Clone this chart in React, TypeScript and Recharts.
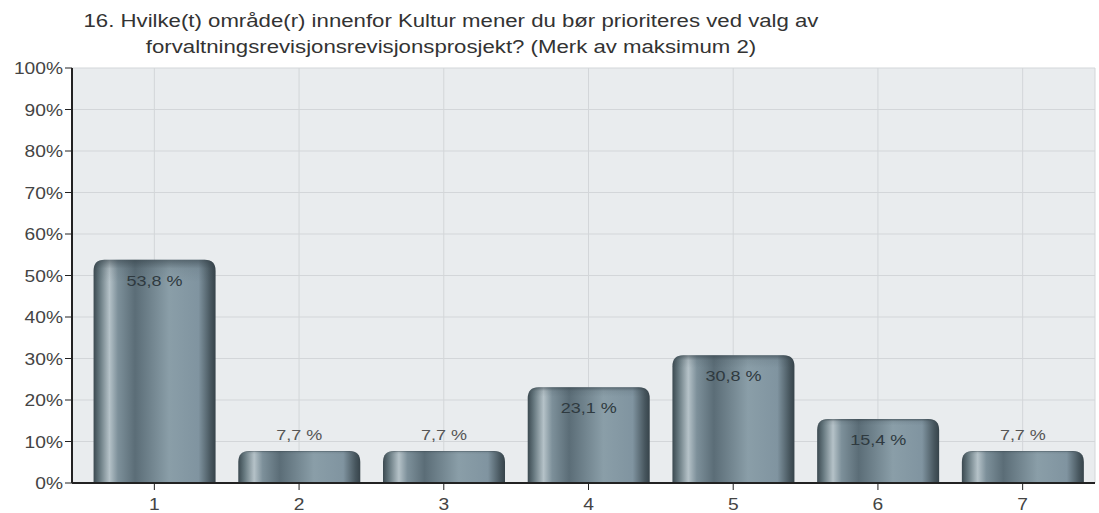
import React from "react"
import { BarChart, Bar, XAxis, YAxis, CartesianGrid, LabelList } from "recharts"

const categories = ["1", "2", "3", "4", "5", "6", "7"]
const percents = [53.8, 7.7, 7.7, 23.1, 30.8, 15.4, 7.7]
const yTicks = [0, 10, 20, 30, 40, 50, 60, 70, 80, 90, 100]
const titleLines = [
  "16. Hvilke(t) område(r) innenfor Kultur mener du bør prioriteres ved valg av",
  "forvaltningsrevisjonsrevisjonsprosjekt? (Merk av maksimum 2)",
]

const data = categories.map((c, i) => ({ name: c, value: percents[i] }))

const FONT = "'Liberation Sans', Arial, sans-serif"
const SX = 1.2 // the original text is a bit wider than Arial

// bar with rounded top and a darker rim along the top edge
const RoundedBar = (props: any) => {
  const { x, y, width, height } = props
  if (!height || height <= 0) return null
  const r = Math.min(11, height)
  const d = `M${x},${y + height} L${x},${y + r} Q${x},${y} ${x + r},${y} L${x + width - r},${y} Q${x + width},${y} ${x + width},${y + r} L${x + width},${y + height} Z`
  return (
    <g>
      <path d={d} fill="url(#barGrad)" />
      <path d={d} fill="url(#topShade)" />
    </g>
  )
}

const WideText = ({ x, y, anchor, size, fill, children }: any) => (
  <text
    transform={`translate(${x},${y}) scale(${SX},1)`}
    textAnchor={anchor}
    fontSize={size}
    fontFamily={FONT}
    fill={fill}
  >
    {children}
  </text>
)

const renderLabel = (props: any) => {
  const { x, y, width, value } = props
  const inside = value > 12
  const txt = `${String(value).replace(".", ",")} %`
  return (
    <WideText x={x + width / 2} y={inside ? y + 26 : y - 11} anchor="middle" size={15} fill={inside ? "#2f3a40" : "#555"}>
      {txt}
    </WideText>
  )
}

const YTick = (props: any) => {
  const { x, y, payload } = props
  return (
    <WideText x={x} y={y + 6} anchor="end" size={16} fill="#444">
      {`${payload.value}%`}
    </WideText>
  )
}

const XTick = (props: any) => {
  const { x, y, payload } = props
  return (
    <WideText x={x} y={y + 18} anchor="middle" size={16} fill="#444">
      {payload.value}
    </WideText>
  )
}

export default function App() {
  return (
    <div style={{ position: "absolute", left: 0, top: 0, width: 1099, height: 513, background: "#fff" }}>
      <svg style={{ position: "absolute", left: 0, top: 0 }} width={1099} height={60}>
        {titleLines.map((t, i) => (
          <WideText key={i} x={451} y={27 + i * 26} anchor="middle" size={18.5} fill="#333">
            {t}
          </WideText>
        ))}
      </svg>
      <BarChart
        width={1099}
        height={513}
        data={data}
        margin={{ top: 68, right: 4, bottom: 0, left: 7 }}
        barCategoryGap="8%"
      >
        <defs>
          <linearGradient id="barGrad" x1="0" y1="0" x2="1" y2="0">
            <stop offset="0%" stopColor="#3b4950" />
            <stop offset="5%" stopColor="#66787f" />
            <stop offset="13%" stopColor="#b5c2c8" />
            <stop offset="20%" stopColor="#7d909a" />
            <stop offset="34%" stopColor="#5b6d77" />
            <stop offset="62%" stopColor="#8a9ea8" />
            <stop offset="86%" stopColor="#8094a0" />
            <stop offset="96%" stopColor="#47565e" />
            <stop offset="100%" stopColor="#36434a" />
          </linearGradient>
          <linearGradient id="topShade" x1="0" y1="0" x2="0" y2="1" gradientUnits="objectBoundingBox">
            <stop offset="0%" stopColor="#2f3b42" stopOpacity={0.55} />
            <stop offset="4%" stopColor="#2f3b42" stopOpacity={0.1} />
            <stop offset="10%" stopColor="#2f3b42" stopOpacity={0} />
          </linearGradient>
        </defs>
        <CartesianGrid fill="#e9ecee" stroke="#d3d6d9" vertical={true} horizontal={true} />
        <XAxis
          dataKey="name"
          padding={{ left: 10, right: 0 }}
          height={30}
          tickSize={7}
          axisLine={{ stroke: "#222", strokeWidth: 2 }}
          tickLine={{ stroke: "#222" }}
          tick={<XTick />}
        />
        <YAxis
          domain={[0, 100]}
          ticks={yTicks}
          width={65}
          tickSize={7}
          interval={0}
          axisLine={{ stroke: "#222", strokeWidth: 2 }}
          tickLine={{ stroke: "#222" }}
          tick={<YTick />}
        />
        <Bar dataKey="value" shape={RoundedBar} isAnimationActive={false}>
          <LabelList dataKey="value" content={renderLabel} />
        </Bar>
      </BarChart>
    </div>
  )
}
